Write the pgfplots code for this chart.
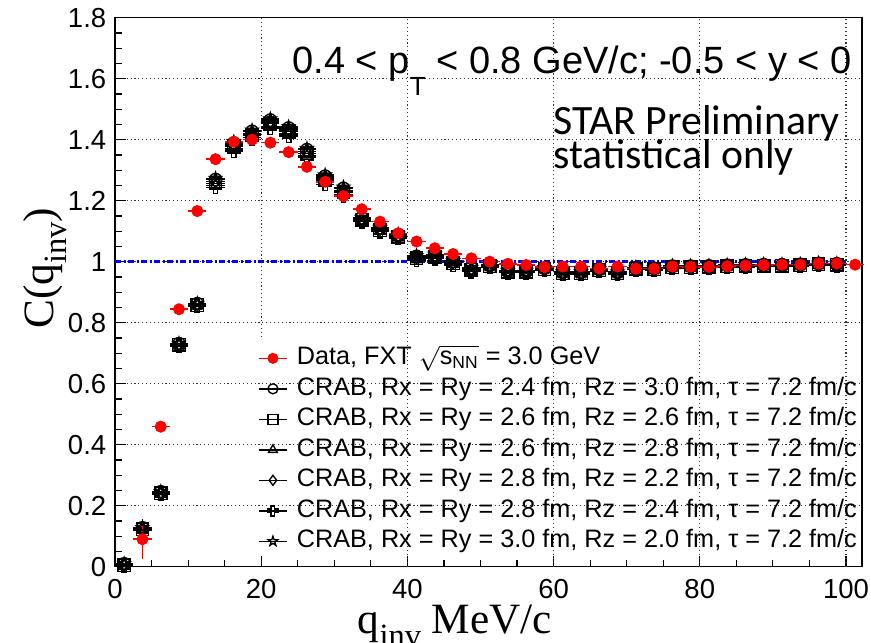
\documentclass[border=0pt]{standalone}
\usepackage{pgfplots}
\pgfplotsset{compat=1.18}
\usepackage{pgfplotstable}
\usepackage{fontspec}
\setmainfont{Liberation Sans}
\newfontfamily\serifl{Liberation Serif}
\newfontfamily\calib{Carlito}
\usetikzlibrary{plotmarks}

% open cross and open star, as ROOT draws them
\pgfdeclareplotmark{ocross}{%
  \pgfpathmoveto{\pgfpoint{-0.35\pgfplotmarksize}{\pgfplotmarksize}}%
  \pgfpathlineto{\pgfpoint{0.35\pgfplotmarksize}{\pgfplotmarksize}}%
  \pgfpathlineto{\pgfpoint{0.35\pgfplotmarksize}{0.35\pgfplotmarksize}}%
  \pgfpathlineto{\pgfpoint{\pgfplotmarksize}{0.35\pgfplotmarksize}}%
  \pgfpathlineto{\pgfpoint{\pgfplotmarksize}{-0.35\pgfplotmarksize}}%
  \pgfpathlineto{\pgfpoint{0.35\pgfplotmarksize}{-0.35\pgfplotmarksize}}%
  \pgfpathlineto{\pgfpoint{0.35\pgfplotmarksize}{-\pgfplotmarksize}}%
  \pgfpathlineto{\pgfpoint{-0.35\pgfplotmarksize}{-\pgfplotmarksize}}%
  \pgfpathlineto{\pgfpoint{-0.35\pgfplotmarksize}{-0.35\pgfplotmarksize}}%
  \pgfpathlineto{\pgfpoint{-\pgfplotmarksize}{-0.35\pgfplotmarksize}}%
  \pgfpathlineto{\pgfpoint{-\pgfplotmarksize}{0.35\pgfplotmarksize}}%
  \pgfpathlineto{\pgfpoint{-0.35\pgfplotmarksize}{0.35\pgfplotmarksize}}%
  \pgfpathclose\pgfusepathqstroke}
\pgfdeclareplotmark{ostar}{%
  \pgfpathmoveto{\pgfpointpolar{90}{\pgfplotmarksize}}%
  \pgfpathlineto{\pgfpointpolar{126}{0.4\pgfplotmarksize}}%
  \pgfpathlineto{\pgfpointpolar{162}{\pgfplotmarksize}}%
  \pgfpathlineto{\pgfpointpolar{198}{0.4\pgfplotmarksize}}%
  \pgfpathlineto{\pgfpointpolar{234}{\pgfplotmarksize}}%
  \pgfpathlineto{\pgfpointpolar{270}{0.4\pgfplotmarksize}}%
  \pgfpathlineto{\pgfpointpolar{306}{\pgfplotmarksize}}%
  \pgfpathlineto{\pgfpointpolar{342}{0.4\pgfplotmarksize}}%
  \pgfpathlineto{\pgfpointpolar{18}{\pgfplotmarksize}}%
  \pgfpathlineto{\pgfpointpolar{54}{0.4\pgfplotmarksize}}%
  \pgfpathclose\pgfusepathqstroke}

\pgfplotstableread{
x ey y
3.75 0.065 0.090
6.25 0.012 0.459
8.75 0.010 0.844
11.25 0.008 1.166
13.75 0.007 1.336
16.25 0.006 1.393
18.75 0.006 1.400
21.25 0.005 1.390
23.75 0.005 1.359
26.25 0.005 1.311
28.75 0.005 1.262
31.25 0.004 1.215
33.75 0.004 1.172
36.25 0.004 1.131
38.75 0.004 1.093
41.25 0.004 1.066
43.75 0.004 1.044
46.25 0.003 1.025
48.75 0.003 1.011
51.25 0.003 1.000
53.75 0.003 0.993
56.25 0.003 0.989
58.75 0.003 0.982
61.25 0.003 0.984
63.75 0.003 0.984
66.25 0.003 0.978
68.75 0.003 0.984
71.25 0.003 0.977
73.75 0.003 0.977
76.25 0.003 0.984
78.75 0.003 0.983
81.25 0.003 0.983
83.75 0.003 0.985
86.25 0.003 0.987
88.75 0.003 0.989
91.25 0.003 0.990
93.75 0.003 0.990
96.25 0.003 0.994
98.75 0.003 0.994
101.25 0.003 0.990
}\data

\pgfplotstableread{
x c1 c2 c3 c4 c5 c6
1.25 0.009 0.005 0.002 0.007 0.001 0.010
3.75 0.127 0.123 0.120 0.125 0.119 0.128
6.25 0.245 0.241 0.238 0.243 0.237 0.246
8.75 0.731 0.727 0.724 0.729 0.723 0.732
11.25 0.862 0.858 0.855 0.860 0.854 0.863
13.75 1.269 1.257 1.249 1.263 1.243 1.273
16.25 1.389 1.377 1.369 1.383 1.363 1.393
18.75 1.427 1.415 1.407 1.421 1.401 1.431
21.25 1.464 1.452 1.444 1.458 1.438 1.468
23.75 1.438 1.426 1.418 1.432 1.412 1.442
26.25 1.367 1.355 1.347 1.361 1.341 1.371
28.75 1.280 1.268 1.260 1.274 1.254 1.284
31.25 1.240 1.228 1.220 1.234 1.214 1.244
33.75 1.143 1.137 1.133 1.140 1.131 1.145
36.25 1.110 1.104 1.100 1.107 1.098 1.112
38.75 1.088 1.082 1.078 1.085 1.076 1.090
41.25 1.017 1.011 1.007 1.014 1.005 1.019
43.75 1.022 1.016 1.012 1.019 1.010 1.024
46.25 1.001 0.995 0.991 0.998 0.989 1.003
48.75 0.979 0.973 0.969 0.976 0.967 0.981
51.25 0.988 0.985 0.983 0.986 0.982 0.989
53.75 0.970 0.967 0.965 0.968 0.964 0.971
56.25 0.970 0.967 0.965 0.968 0.964 0.971
58.75 0.979 0.976 0.974 0.977 0.973 0.980
61.25 0.965 0.962 0.960 0.963 0.959 0.966
63.75 0.965 0.962 0.960 0.963 0.959 0.966
66.25 0.975 0.972 0.970 0.973 0.969 0.976
68.75 0.965 0.962 0.960 0.963 0.959 0.966
71.25 0.980 0.977 0.975 0.978 0.974 0.981
73.75 0.978 0.975 0.973 0.976 0.972 0.979
76.25 0.985 0.982 0.980 0.983 0.979 0.986
78.75 0.985 0.982 0.980 0.983 0.979 0.986
81.25 0.986 0.983 0.981 0.984 0.980 0.987
83.75 0.988 0.985 0.983 0.986 0.982 0.989
86.25 0.989 0.986 0.984 0.987 0.983 0.990
88.75 0.990 0.987 0.985 0.988 0.984 0.991
91.25 0.990 0.987 0.985 0.988 0.984 0.991
93.75 0.991 0.988 0.986 0.989 0.985 0.992
96.25 0.994 0.991 0.989 0.992 0.988 0.995
98.75 0.993 0.990 0.988 0.991 0.987 0.994
}\crab

\tikzset{gridline/.style={black!80, line width=0.45pt, dash pattern=on 0.45pt off 1.1pt}}
\pgfplotsset{
  crab/.style={black, only marks, mark size=2.5pt, line width=0.55pt,
    error bars/x dir=both, error bars/x fixed=1.25, error bars/error mark=none,
    error bars/error bar style={black, line width=0.55pt}},
}

\begin{document}
\begin{tikzpicture}
\begin{axis}[
  scale only axis, width=298.8pt, height=219.6pt,
  xmin=0, xmax=102.2, ymin=0, ymax=1.8,
  clip=false,
  axis line style={line width=0.6pt},
  xtick={0,20,40,60,80,100},
  ytick={0,0.2,0.4,0.6,0.8,1,1.2,1.4,1.6,1.8},
  minor x tick num=3, minor y tick num=3,
  tick align=inside, tick pos=left,
  major tick length=4.2pt, minor tick length=2.6pt,
  tick style={black, line width=0.5pt},
  /pgf/number format/assume math mode=true,
  tick label style={font=\fontsize{11}{13}\selectfont},
  xticklabel style={yshift=-1.6pt},
  ymajorgrids, grid style={gridline},
  legend style={at={(rel axis cs:0.1914,0.400)}, anchor=north west,
    draw=none, fill=none, inner sep=0pt, outer sep=0pt,
    font=\fontsize{10.1}{11}\selectfont, row sep=3.2pt, column sep=3.6pt,
    nodes={inner sep=0pt, text height=7pt, text depth=2pt}},
  legend cell align=left,
  legend image code/.code={
    \draw[#1, mark=none] (0cm,0cm) -- (0.4cm,0cm);
    \draw[#1, mark size=2pt] plot coordinates {(0.2cm,0cm)};
  },
]
% vertical grid: the line at 20 stops above the legend
\draw[gridline] (axis cs:20,0.753) -- (axis cs:20,1.8);
\draw[gridline] (axis cs:40,0) -- (axis cs:40,1.8);
\draw[gridline] (axis cs:60,0) -- (axis cs:60,1.8);
\draw[gridline] (axis cs:80,0) -- (axis cs:80,1.8);
\draw[gridline] (axis cs:100,0) -- (axis cs:100,1.8);

\addplot[blue, line width=1.1pt, dash pattern=on 2.4pt off 1pt on 0.8pt off 1pt, forget plot]
  coordinates {(0,1) (100,1)};

\addlegendimage{red, only marks, mark=*, mark options={fill=red}}
\addlegendentry{Data, FXT $\sqrt{\mbox{s}_{\mbox{\fontsize{7}{7}\selectfont NN}}}$ = 3.0 GeV}

\addplot[crab, mark=o] table[x=x, y=c1] {\crab};
\addlegendentry{CRAB, Rx = Ry = 2.4 fm, Rz = 3.0 fm, τ = 7.2 fm/c}
\addplot[crab, mark=square] table[x=x, y=c2] {\crab};
\addlegendentry{CRAB, Rx = Ry = 2.6 fm, Rz = 2.6 fm, τ = 7.2 fm/c}
\addplot[crab, mark=triangle] table[x=x, y=c3] {\crab};
\addlegendentry{CRAB, Rx = Ry = 2.6 fm, Rz = 2.8 fm, τ = 7.2 fm/c}
\addplot[crab, mark=diamond] table[x=x, y=c4] {\crab};
\addlegendentry{CRAB, Rx = Ry = 2.8 fm, Rz = 2.2 fm, τ = 7.2 fm/c}
\addplot[crab, mark=ocross] table[x=x, y=c5] {\crab};
\addlegendentry{CRAB, Rx = Ry = 2.8 fm, Rz = 2.4 fm, τ = 7.2 fm/c}
\addplot[crab, mark=ostar] table[x=x, y=c6] {\crab};
\addlegendentry{CRAB, Rx = Ry = 3.0 fm, Rz = 2.0 fm, τ = 7.2 fm/c}

\addplot[red, only marks, mark=*, mark size=2.2pt, mark options={fill=red},
  forget plot,
  error bars/.cd, x dir=both, x fixed=1.25, y dir=both, y explicit,
  error mark=none, error bar style={red, line width=0.6pt}]
  table[x=x, y=y, y error=ey] {\data};

\node[anchor=base east, font=\fontsize{15.2}{17}\selectfont, inner sep=0pt]
  at (rel axis cs:0.9866,0.899)
  {0.4 < p\raisebox{-9pt}{\fontsize{10.5}{11}\selectfont T} < 0.8 GeV/c; -0.5 < y < 0};
\node[anchor=base west, font=\calib\fontsize{16.7}{18}\selectfont, inner sep=0pt]
  at (rel axis cs:0.5863,0.788) {STAR Preliminary};
\node[anchor=base west, font=\calib\fontsize{16.7}{18}\selectfont, inner sep=0pt]
  at (rel axis cs:0.5863,0.726) {statistical only};

\node[anchor=base, font=\serifl\fontsize{17.3}{19}\selectfont, inner sep=0pt]
  at (rel axis cs:0.455,-0.121)
  {q\raisebox{-5.2pt}{\fontsize{13}{14}\selectfont inv} MeV/c};
\node[anchor=base, rotate=90, font=\serifl\fontsize{17.3}{19}\selectfont, inner sep=0pt]
  at (rel axis cs:-0.083,0.544)
  {C(q\raisebox{-5.2pt}{\fontsize{13}{14}\selectfont inv})};

\coordinate (bbsw) at (rel axis cs:-0.154,-0.139);
\coordinate (bbne) at (rel axis cs:1.012,1.0322);
\end{axis}
\pgfresetboundingbox
\useasboundingbox (bbsw) rectangle (bbne);
\end{tikzpicture}
\end{document}
